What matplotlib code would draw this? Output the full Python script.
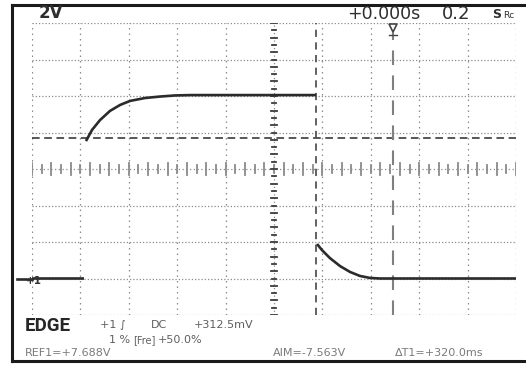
import numpy as np
import matplotlib
matplotlib.use("Agg")
import matplotlib.pyplot as plt

# Scope settings
volts_per_div = 2.0
sec_per_div = 0.2
t_min, t_max = -1.0, 1.0
v_min, v_max = -2.0, 14.0

# Channel 1 trace, broken at the fast edges (NaN gaps)
low_t = [-1.0, -0.785]
low_v = [0.0, 0.0]
rise_t = [-0.777, -0.752, -0.719, -0.678, -0.636, -0.595, -0.533, -0.471, -0.409, -0.347, 0.174]
rise_v = [7.53, 8.14, 8.68, 9.18, 9.51, 9.73, 9.89, 9.97, 10.03, 10.05, 10.05]
fall_t = [0.178, 0.198, 0.231, 0.273, 0.314, 0.355, 0.397, 0.438, 1.0]
fall_v = [1.89, 1.56, 1.12, 0.68, 0.36, 0.14, 0.03, 0.0, 0.0]

# Cursor readouts
ref1_v = 7.688
cursor1_t = 0.172
delta_t1 = 0.320

W, H = 526, 365
fig = plt.figure(figsize=(W / 100, H / 100), dpi=100)
fig.patch.set_facecolor("white")

def fx(px):
    return px / W

def fy(py):
    return 1 - py / H

ax = fig.add_axes([fx(32), fy(315), fx(516) - fx(32), fy(23) - fy(315)])
ax.set_xlim(t_min, t_max)
ax.set_ylim(v_min, v_max)
for s in ax.spines.values():
    s.set_visible(False)
ax.set_xticks([])
ax.set_yticks([])

grid_col = "#8c8c8c"
xs = np.arange(t_min, t_max + 1e-9, sec_per_div)
ys = np.arange(v_min, v_max + 1e-9, volts_per_div)
t_c = (t_min + t_max) / 2
v_c = (v_min + v_max) / 2
for x in xs:
    if abs(x - t_c) < 1e-9:
        continue
    ax.plot([x, x], [v_min, v_max], color=grid_col, lw=0.9, ls=(0, (1.2, 3.2)), zorder=1)
for y in ys:
    if abs(y - v_c) < 1e-9:
        continue
    ax.plot([t_min, t_max], [y, y], color=grid_col, lw=0.9, ls=(0, (1.0, 1.6)), zorder=1)

# Centre graticule axes with minor ticks
ax.plot([t_min, t_max], [v_c, v_c], color=grid_col, lw=0.9, ls=(0, (1.0, 2.0)), zorder=1)
ax.plot([t_c, t_c], [v_min, v_max], color=grid_col, lw=0.9, ls=(0, (1.0, 2.0)), zorder=1)
for i, x in enumerate(np.arange(t_min, t_max + 1e-9, sec_per_div / 5)):
    h = 0.35 if i % 2 == 0 else 0.22
    ax.plot([x, x], [v_c - h, v_c + h], color="#8a8a8a", lw=1.3, zorder=2)
for i, y in enumerate(np.arange(v_min, v_max + 1e-9, volts_per_div / 5)):
    w = 0.012 if i % 2 == 0 else 0.008
    ax.plot([t_c - w, t_c + w], [y, y], color="#3c3c3c", lw=1.3, zorder=2)

# Cursors
ax.axhline(ref1_v, color="#2a2a2a", lw=1.1, ls=(0, (5, 3)), zorder=3)
ax.axvline(cursor1_t, color="#555555", lw=1.3, ls=(0, (4, 3)), zorder=3)
ax.axvline(cursor1_t + delta_t1, color="#808080", lw=1.5, ls=(0, (7, 5)), zorder=3)

# Trigger position marker
ax.plot([cursor1_t + delta_t1], [13.75], marker="v", ms=6, mfc="white", mec="#444444", mew=1.2,
        clip_on=False, zorder=5)
ax.plot([cursor1_t + delta_t1 - 0.018, cursor1_t + delta_t1 + 0.018], [13.35, 13.35],
        color="#444444", lw=1.0, clip_on=False, zorder=5)

# Trace
trace_t = low_t + [np.nan] + rise_t + [np.nan] + fall_t
trace_v = low_v + [np.nan] + rise_v + [np.nan] + fall_v
ax.plot(trace_t, trace_v, color="#2b2b2b", lw=1.9, solid_capstyle="butt", zorder=4)

# Ground marker for channel 1
ax.plot([t_min - 0.06, t_min], [0, 0], color="#2b2b2b", lw=1.9, clip_on=False, zorder=4)
fig.text(fx(26), fy(281), "+1", fontsize=7.5, color="#333333", family="DejaVu Sans",
         ha="left", va="center", fontweight="bold")

# Screen frame
frame = dict(color="#1a1a1a", lw=2.2, transform=fig.transFigure)
fig.add_artist(plt.Line2D([fx(12), 1.0], [fy(5), fy(5)], **frame))
fig.add_artist(plt.Line2D([fx(12), fx(12)], [fy(5), fy(361)], **frame))
fig.add_artist(plt.Line2D([fx(12), 1.0], [fy(361), fy(361)], **frame))

# Header readouts
head = dict(color="#2e2e2e", family="DejaVu Sans", ha="left", va="center")
fig.text(fx(39), fy(13), "2V", fontsize=12, fontweight="bold", **head)
fig.text(fx(347), fy(14), "+0.000s", fontsize=12.5, **head)
fig.text(fx(442), fy(14), "0.2", fontsize=13, **head)
fig.text(fx(492), fy(15), "S", fontsize=9, fontweight="bold", **head)
fig.text(fx(503), fy(15), "Rc", fontsize=6.5, **head)

# Trigger / cursor readouts
lab = dict(fontsize=8, color="#5e5e5e", family="DejaVu Sans", ha="left", va="center")
lab3 = dict(lab, color="#7a7a7a")
fig.text(fx(25), fy(326), "EDGE", fontsize=13.5, fontweight="bold", color="#262626",
         family="Roboto", ha="left", va="center")
fig.text(fx(100), fy(325), "+1 \u222b", **lab)
fig.text(fx(151), fy(325), "DC", **lab)
fig.text(fx(194), fy(325), "+312.5mV", **lab)
fig.text(fx(109), fy(340), "1 %", **lab)
fig.text(fx(133), fy(340), "[Fre]", **dict(lab, fontsize=7))
fig.text(fx(158), fy(340), "+50.0%", **lab)
fig.text(fx(25), fy(353), "REF1=+7.688V", **lab3)
fig.text(fx(273), fy(353), "AIM=-7.563V", **lab3)
fig.text(fx(395), fy(353), "\u0394T1=+320.0ms", **lab3)

fig.savefig("out.png", dpi=100)
